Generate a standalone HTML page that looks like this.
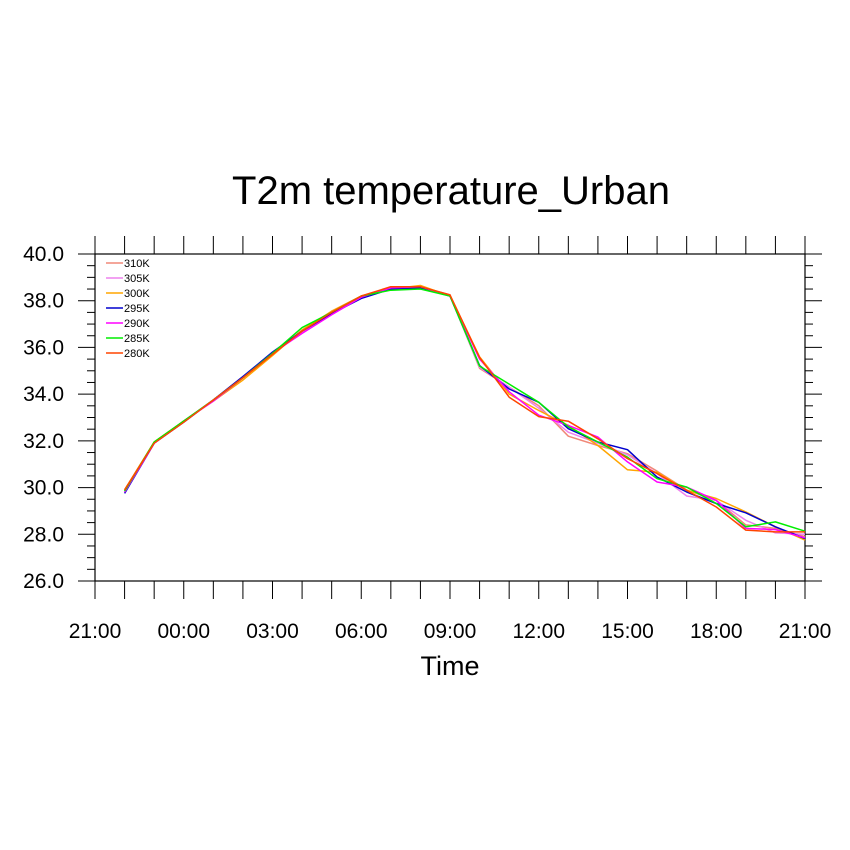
<!DOCTYPE html>
<html><head><meta charset="utf-8"><style>
body{margin:0;background:#fff;}
svg{display:block;font-family:"Liberation Sans",sans-serif;}
</style></head><body>
<svg id="chart" width="850" height="850" viewBox="0 0 850 850">
<rect width="850" height="850" fill="#fff"/>
<text x="451" y="204" text-anchor="middle" font-size="40">T2m temperature_Urban</text>
<text x="450" y="675" text-anchor="middle" font-size="27">Time</text>
<g id="axes"></g>
<g id="series"></g>
<g id="legend"></g>
</svg>
<script>
const hours = [1,2,3,4,5,6,7,8,9,10,11,12,13,14,15,16,17,18,19,20,21,22,23,24];
const xTickLabels = ["21:00","00:00","03:00","06:00","09:00","12:00","15:00","18:00","21:00"];
const yTickLabels = ["26.0","28.0","30.0","32.0","34.0","36.0","38.0","40.0"];
const seriesNames = ["310K","305K","300K","295K","290K","285K","280K"];
const seriesColors = ["#F08878","#EE82EE","#FFA500","#0000CD","#FF00FF","#00EE00","#FF4500"];
const s310 = [29.9,31.95,32.85,33.75,34.7,35.7,36.7,37.55,38.2,38.55,38.6,38.25,35.1,34.3,33.5,32.2,31.8,31.45,30.7,29.9,29.45,28.4,28.25,27.9];
const s305 = [29.85,31.9,32.85,33.75,34.75,35.75,36.65,37.45,38.15,38.6,38.6,38.2,35.15,34.3,33.4,32.37,31.9,31.4,30.6,29.64,29.45,28.6,28.06,28.0];
const s300 = [29.9,31.95,32.85,33.7,34.6,35.65,36.75,37.55,38.2,38.5,38.65,38.2,35.6,34.0,33.3,32.66,31.8,30.76,30.66,29.88,29.53,28.96,28.32,27.75];
const s295 = [29.75,31.9,32.8,33.75,34.75,35.8,36.7,37.45,38.1,38.5,38.55,38.2,35.22,34.22,33.65,32.52,31.95,31.62,30.45,29.81,29.32,28.92,28.32,27.82];
const s290 = [29.8,31.9,32.85,33.7,34.7,35.75,36.6,37.4,38.15,38.55,38.6,38.2,35.5,34.1,33.1,32.66,32.16,31.1,30.24,30.02,29.45,28.25,28.2,27.85];
const s285 = [29.85,31.95,32.85,33.75,34.7,35.75,36.85,37.5,38.2,38.45,38.5,38.2,35.2,34.43,33.65,32.6,31.95,31.3,30.38,30.02,29.32,28.32,28.53,28.13];
const s280 = [29.9,31.9,32.8,33.75,34.7,35.7,36.7,37.5,38.2,38.6,38.6,38.25,35.57,33.87,33.04,32.84,32.09,31.24,30.6,29.88,29.17,28.18,28.1,28.1];
const allSeries = [s310,s305,s300,s295,s290,s285,s280];

const L=95,R=805,T=254,B=581,yMin=26,yMax=40,xMin=0,xMax=24;
const NS="http://www.w3.org/2000/svg";
const xs=h=>L+(h-xMin)/(xMax-xMin)*(R-L);
const ys=v=>B-(v-yMin)/(yMax-yMin)*(B-T);
function mk(tag,attrs,parent){const e=document.createElementNS(NS,tag);for(const k in attrs)e.setAttribute(k,attrs[k]);parent.appendChild(e);return e;}
const axes=document.getElementById('axes');
const frame=mk('rect',{x:L,y:T,width:R-L,height:B-T,fill:'none',stroke:'#000','stroke-width':1.2},axes);


for(let h=0;h<=24;h++){
  const x=xs(h);
  const tb=mk('line',{x1:x,y1:B,x2:x,y2:B+18,stroke:'#000','stroke-width':1},axes);
  
  
  const tt=mk('line',{x1:x,y1:T,x2:x,y2:T-18,stroke:'#000','stroke-width':1},axes);
  
  
}
xTickLabels.forEach((lab,i)=>{
  const t=mk('text',{x:xs(i*3),y:B+57,'text-anchor':'middle','font-size':21},axes);
  t.textContent=lab;
  
  
});
for(let v=yMin;v<=yMax+0.001;v+=0.5){
  const y=ys(v);const major=Math.abs(v-Math.round(v/2)*2)<0.01;
  const len=major?17:8;
  const a=mk('line',{x1:L-len,y1:y,x2:L,y2:y,stroke:'#000','stroke-width':1},axes);
  
  
  const b=mk('line',{x1:R,y1:y,x2:R+len,y2:y,stroke:'#000','stroke-width':1},axes);
  
  
}
yTickLabels.forEach((lab,i)=>{
  const t=mk('text',{x:L-31,y:ys(yMin+i*2)+7,'text-anchor':'end','font-size':21},axes);
  t.textContent=lab;
  
  
});
const sg=document.getElementById('series');
allSeries.forEach((vals,si)=>{
  const pts=vals.map((v,i)=>xs(hours[i]).toFixed(1)+','+ys(v).toFixed(1)).join(' ');
  const p=mk('polyline',{points:pts,fill:'none',stroke:seriesColors[si],'stroke-width':1.5,'stroke-linejoin':'round'},sg);
  
  
});
const lg=document.getElementById('legend');
seriesNames.forEach((n,i)=>{
  const y=263+i*15;
  const l=mk('line',{x1:106,y1:y,x2:123,y2:y,stroke:seriesColors[i],'stroke-width':1.5},lg);
  
  
  const t=mk('text',{x:124,y:y+4,'font-size':11},lg);
  t.textContent=n;
  
  
});
</script>
</body></html>
